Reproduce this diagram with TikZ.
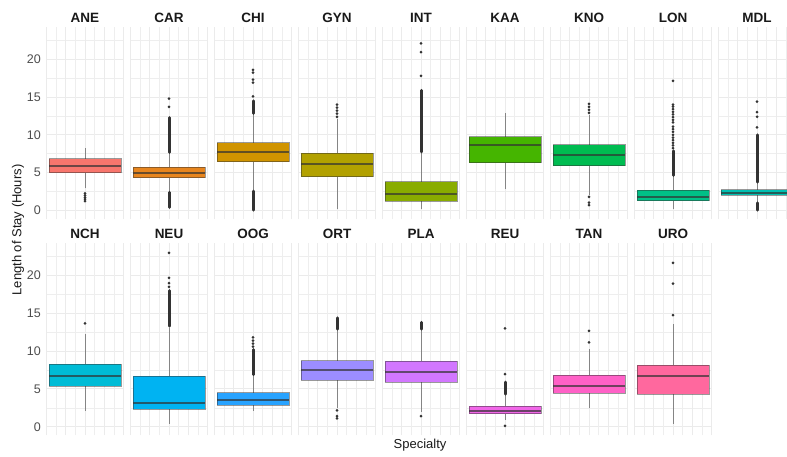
\documentclass[tikz,border=0pt]{standalone}
\usepackage{fontspec}
\setmainfont{Liberation Sans}
% fill colours of the seventeen specialties
\definecolor{cANE}{HTML}{F8766D}
\definecolor{cCAR}{HTML}{E7851E}
\definecolor{cCHI}{HTML}{D09400}
\definecolor{cGYN}{HTML}{B2A100}
\definecolor{cINT}{HTML}{89AC00}
\definecolor{cKAA}{HTML}{45B500}
\definecolor{cKNO}{HTML}{00BC51}
\definecolor{cLON}{HTML}{00C087}
\definecolor{cMDL}{HTML}{00C0B2}
\definecolor{cNCH}{HTML}{00BCD6}
\definecolor{cNEU}{HTML}{00B3F2}
\definecolor{cOOG}{HTML}{28A3FF}
\definecolor{cORT}{HTML}{9C8DFF}
\definecolor{cPLA}{HTML}{D277FF}
\definecolor{cREU}{HTML}{F166E8}
\definecolor{cTAN}{HTML}{FF61C7}
\definecolor{cURO}{HTML}{FF689E}
\definecolor{gridgrey}{HTML}{EBEBEB}
\definecolor{ticktext}{HTML}{4D4D4D}
\definecolor{ink}{HTML}{333333}

% one panel's grid, drawn in panel units (x in pt, y in hours)
\newcommand\gridpanel{%
  \foreach \h in {2.5,7.5,...,22.5} \draw[gmin] (0,\h) -- (77,\h);
  \foreach \h in {0,5,...,20} \draw[gmaj] (0,\h) -- (77,\h);
  \foreach \k in {1,3,5,7} \draw[gmin] (\k*9.625,-1.16) -- (\k*9.625,24.26);
  \foreach \k in {0,2,4,6,8} \draw[gmaj] (\k*9.625,-1.16) -- (\k*9.625,24.26);
}
% outlier dots and dense runs of outliers
\newcommand\olpts[1]{\foreach \v in {#1} \fill[ink] (0,\v) circle[radius=1.5pt];}
\newcommand\olbar[2]{\draw[ink, line width=3pt, line cap=round] (0,#1) -- (0,#2);}
% box: centre x, zero line y, lower whisker, Q1, median, Q3, upper whisker, fill, outliers
\newcommand\bxp[9]{%
  \begin{scope}[shift={(#1,#2)}, y=7.56pt]
    \draw[whisk] (0,#3) -- (0,#4);
    \draw[whisk] (0,#6) -- (0,#7);
    #9
    \filldraw[boxline, fill=#8] (-36,#4) rectangle (36,#6);
    \draw[medline] (-36,#5) -- (36,#5);
  \end{scope}}

\begin{document}
\begin{tikzpicture}[x=1pt, y=1pt,
  gmaj/.style={draw=gridgrey, line width=1pt},
  gmin/.style={draw=gridgrey!85, line width=0.6pt},
  whisk/.style={draw=ink, draw opacity=0.55, line width=1pt},
  boxline/.style={draw=ink, draw opacity=0.5, line width=1pt},
  medline/.style={draw=ink, draw opacity=0.7, line width=2pt},
  striplabel/.style={font=\fontsize{13.5}{16}\selectfont\bfseries, text=black!90, inner sep=0pt},
  ticklabel/.style={font=\fontsize{12.5}{15}\selectfont, text=ticktext, inner sep=0pt, anchor=east},
  axistitle/.style={font=\fontsize{13}{15.6}\selectfont, text=black!90, inner sep=0pt}]
\useasboundingbox (0,0) rectangle (787,456);
\clip (0,0) rectangle (787,456);

% panel grids: nine in the upper row, eight in the lower row
\foreach \i in {0,...,8} {
  \begin{scope}[shift={(46.5+84*\i,245.5)}, y=7.56pt] \gridpanel \end{scope}}
\foreach \i in {0,...,7} {
  \begin{scope}[shift={(46.5+84*\i,29.3)}, y=7.56pt] \gridpanel \end{scope}}

% y-axis tick labels
\foreach \h in {0,5,...,20} {
  \node[ticklabel] (tu\h) at (41,245.5+7.56*\h) {\h};
  \node[ticklabel] (tl\h) at (41,29.3+7.56*\h) {\h};}

% strip labels
\foreach \n [count=\i from 0] in {ANE,CAR,CHI,GYN,INT,KAA,KNO,LON,MDL}
  \node[striplabel] (s\n) at (85+84*\i,438) {\n};
\foreach \n [count=\i from 0] in {NCH,NEU,OOG,ORT,PLA,REU,TAN,URO}
  \node[striplabel] (s\n) at (85+84*\i,221.7) {\n};

% upper row boxes
\bxp{85}{245.5}{2.94}{5.01}{5.85}{6.82}{8.32}{cANE}{\olpts{1.25,1.5,1.75,2.0,2.25}}
\bxp{169}{245.5}{2.5}{4.35}{5.01}{5.72}{7.6}{cCAR}{\olbar{7.7}{12.3}\olbar{0.4}{2.4}\olpts{13.7,14.8}}
\bxp{253}{245.5}{2.68}{6.46}{7.79}{8.98}{12.7}{cCHI}{\olbar{12.85}{14.5}\olbar{0.05}{2.55}\olpts{15.1,16.9,17.3,18.25,18.6}}
\bxp{337}{245.5}{0.15}{4.48}{6.12}{7.57}{12.1}{cGYN}{\olpts{12.4,12.8,13.2,13.6,14.0}}
\bxp{421}{245.5}{0.15}{1.22}{2.23}{3.81}{7.6}{cINT}{\olbar{7.75}{15.9}\olpts{17.8,20.95,22.1}}
\bxp{505}{245.5}{2.8}{6.33}{8.72}{9.78}{12.87}{cKAA}{}
\bxp{589}{245.5}{2.0}{5.93}{7.3}{8.68}{12.65}{cKNO}{\olpts{12.9,13.3,13.7,14.1,1.8,1.05,0.7}}
\bxp{673}{245.5}{0.15}{1.3}{1.83}{2.67}{4.5}{cLON}{\olbar{4.65}{7.9}\olpts{8.25,8.6,8.95,9.3,9.65,10.0,10.4,10.75,11.1,11.65,12.0,12.35,12.7,13.05,13.4,13.75,14.0,17.15}}
\bxp{757}{245.5}{1.17}{2.0}{2.36}{2.72}{3.6}{cMDL}{\olbar{3.75}{10.0}\olbar{0.05}{1.0}\olpts{11.0,12.4,13.0,14.4}}

% lower row boxes
\bxp{85}{29.3}{2.11}{5.38}{6.74}{8.24}{12.25}{cNCH}{\olpts{13.66}}
\bxp{169}{29.3}{0.36}{2.3}{3.09}{6.7}{13.1}{cNEU}{\olbar{13.3}{18.0}\olpts{18.5,19.0,19.7,23.0}}
\bxp{253}{29.3}{2.11}{2.83}{3.53}{4.5}{6.7}{cOOG}{\olbar{6.9}{10.2}\olpts{10.6,11.0,11.4,11.8}}
\bxp{337}{29.3}{2.43}{6.17}{7.53}{8.72}{12.77}{cORT}{\olbar{12.9}{14.4}\olpts{2.15,1.4,1.1}}
\bxp{421}{29.3}{1.95}{5.86}{7.23}{8.64}{12.77}{cPLA}{\olbar{12.9}{13.8}\olpts{1.4}}
\bxp{505}{29.3}{0.9}{1.72}{2.11}{2.69}{4.15}{cREU}{\olbar{4.3}{5.9}\olpts{6.95,13.0,0.1}}
\bxp{589}{29.3}{2.43}{4.41}{5.34}{6.79}{10.22}{cTAN}{\olpts{11.15,12.68}}
\bxp{673}{29.3}{0.4}{4.32}{6.70}{8.15}{13.53}{cURO}{\olpts{14.76,18.94,21.67}}

% axis titles
\node[axistitle] (xtitle) at (420,11) {Specialty};
\node[axistitle, rotate=90] (ytitle) at (18,226) {Length of Stay (Hours)};
\end{tikzpicture}
\end{document}
